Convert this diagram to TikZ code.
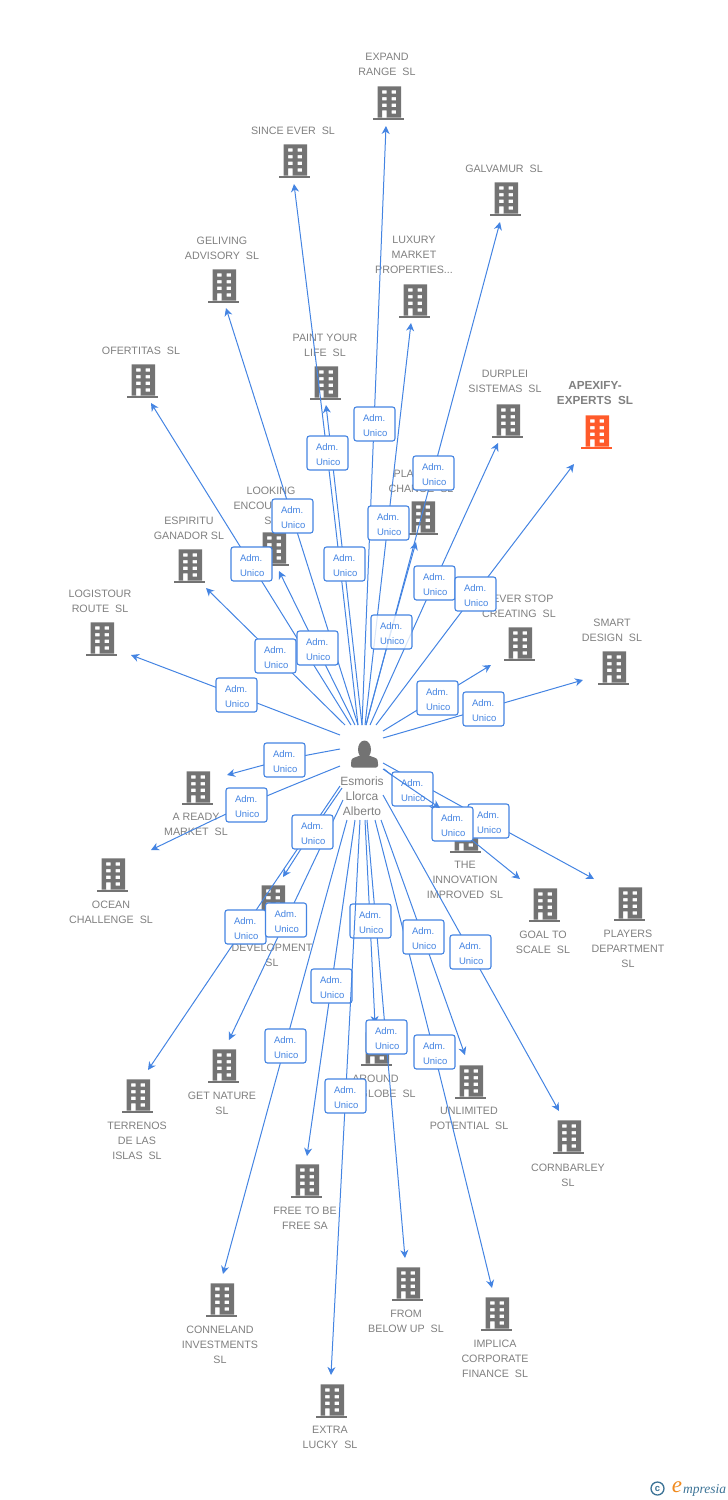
\documentclass[tikz,border=0pt]{standalone}
\usepackage{fontspec}
\setmainfont{Liberation Sans}
\newfontfamily\logofont{Liberation Serif}
\usetikzlibrary{arrows.meta}
\definecolor{edgeblue}{HTML}{4484E2}
\definecolor{labgray}{HTML}{808080}
\definecolor{bldgray}{HTML}{737373}
\definecolor{bldorange}{HTML}{FF5A2A}
\definecolor{logoteal}{HTML}{3C7396}
\definecolor{logoorange}{HTML}{F08A1E}
\tikzset{
  edgeline/.style={draw=edgeblue,line width=1pt,-{Stealth[length=8pt,width=8pt,inset=2.5pt]}},
  admbox/.style={draw=edgeblue,line width=1.1pt,fill=white,rounded corners=2.5pt,
    inner xsep=8pt,inner ysep=0pt,text width=25pt,minimum height=34pt,align=left,
    text=edgeblue,font=\fontsize{9.5}{15}\selectfont},
  fadedbox/.style={admbox,fill opacity=.8,text opacity=1,draw opacity=1},
  bldlabel/.style={anchor=north,inner sep=0pt,align=center,text=labgray,
    font=\fontsize{10.7}{15}\selectfont},
  bldbox/.style={inner sep=0pt,minimum width=32pt,minimum height=34pt},
}
% building icon: id, x, y, colour, label x, label y of first line, text
\newcommand\bldg[7]{%
  \node[bldbox] (b#1) at (#2,#3) {};
  \begin{scope}[shift={(#2,#3)}]
    \fill[#4,even odd rule]
      (-11.3,-16.7) rectangle (12,14.5)
      (-7,-12.7) rectangle (-2.3,-9.3) (2.7,-12.7) rectangle (7,-9.3)
      (-7,-6) rectangle (-2.3,-2.7) (2.7,-6) rectangle (7,-2.7)
      (-7,0.7) rectangle (-2.3,4) (2.7,0.7) rectangle (7,4)
      (-7,7.3) rectangle (-2.3,14.5) (2.7,7.3) rectangle (7,10.7);
    \fill[#4] (-15.7,14.6) rectangle (15,17);
  \end{scope}
  \node[bldlabel] (n#1) at (#5,#6-3.6) {#7};
}
% connector: id, start x,y, label-centre x,y, tip x,y
\newcommand\conn[7]{%
  \coordinate (s#1) at (#2,#3);
  \coordinate (t#1) at (#6,#7);
  \pgfmathsetmacro\cx{4/3*#4-(#2+#6)/6}
  \pgfmathsetmacro\cy{4/3*#5-(#3+#7)/6}
  \coordinate (k#1) at (\cx,\cy);
  \draw[edgeline] (s#1) .. controls (k#1) .. (t#1);
}
\newcommand\admtext{\hspace*{1pt}\rule{0pt}{10pt}Adm.\\\hspace*{1pt}Unico}
\newcommand\adm[3]{\node[admbox] (l#1) at (#2,#3) {\admtext};}
\begin{document}
\begin{tikzpicture}[x=1pt,y=-1pt]
\useasboundingbox (0,0) rectangle (728,1500);
% buildings
\bldg{expand}{389}{103}{bldgray}{387}{57}{EXPAND\\RANGE\ \ SL}
\bldg{since}{295}{161}{bldgray}{293}{130}{SINCE EVER\ \ SL}
\bldg{galva}{506}{199}{bldgray}{504}{168}{GALVAMUR\ \ SL}
\bldg{geliv}{224}{286}{bldgray}{222}{240}{GELIVING\\ADVISORY\ \ SL}
\bldg{luxury}{415}{301}{bldgray}{414}{240}{LUXURY\\MARKET\\PROPERTIES...}
\bldg{paint}{326}{383}{bldgray}{325}{337}{PAINT YOUR\\LIFE\ \ SL}
\bldg{ofert}{143}{381}{bldgray}{141}{350}{OFERTITAS\ \ SL}
\bldg{durp}{508}{421}{bldgray}{505}{374}{DURPLEI\\SISTEMAS\ \ SL}
\bldg{apex}{597}{432}{bldorange}{595}{385}{\fontsize{11.7}{15}\selectfont\bfseries APEXIFY-\\\fontsize{11.7}{15}\selectfont\bfseries EXPERTS\ \ SL}
\bldg{look}{274}{549}{bldgray}{271}{490}{LOOKING\\ENCOUNTERS\\SL}
\bldg{plan}{423}{518}{bldgray}{421}{473}{PLANNING\\CHANGE\ \ SL}
\bldg{espir}{190}{566}{bldgray}{189}{520}{ESPIRITU\\GANADOR SL}
\bldg{logis}{102}{639}{bldgray}{100}{593}{LOGISTOUR\\ROUTE\ \ SL}
\bldg{never}{520}{644}{bldgray}{519}{598}{NEVER STOP\\CREATING\ \ SL}
\bldg{smart}{614}{668}{bldgray}{612}{622}{SMART\\DESIGN\ \ SL}
\bldg{ready}{198}{788}{bldgray}{196}{817}{A READY\\MARKET\ \ SL}
\bldg{ocean}{113}{875}{bldgray}{111}{904}{OCEAN\\CHALLENGE\ \ SL}
\bldg{innov}{466}{836}{bldgray}{465}{865}{THE\\INNOVATION\\IMPROVED\ \ SL}
\bldg{goal}{545}{905}{bldgray}{543}{934}{GOAL TO\\SCALE\ \ SL}
\bldg{play}{630}{904}{bldgray}{628}{933}{PLAYERS\\DEPARTMENT\\SL}
\bldg{devel}{273}{902}{bldgray}{272}{947}{DEVELOPMENT\\SL}
\bldg{terr}{138}{1096}{bldgray}{137}{1125}{TERRENOS\\DE LAS\\ISLAS\ \ SL}
\bldg{getn}{224}{1066}{bldgray}{222}{1095}{GET NATURE\\SL}
\bldg{around}{377}{1049}{bldgray}{375.5}{1078}{AROUND\\THE GLOBE\ \ SL}
\bldg{unlim}{471}{1082}{bldgray}{469}{1111}{UNLIMITED\\POTENTIAL\ \ SL}
\bldg{corn}{569}{1137}{bldgray}{568}{1167}{CORNBARLEY\\SL}
\bldg{free}{307}{1181}{bldgray}{305}{1210}{FREE TO BE\\FREE SA}
\bldg{conne}{222}{1300}{bldgray}{220}{1329}{CONNELAND\\INVESTMENTS\\SL}
\bldg{from}{408}{1284}{bldgray}{406}{1313}{FROM\\BELOW UP\ \ SL}
\bldg{impl}{497}{1314}{bldgray}{495}{1343}{IMPLICA\\CORPORATE\\FINANCE\ \ SL}
\bldg{extra}{332}{1401}{bldgray}{330}{1430}{EXTRA\\LUCKY\ \ SL}
% person
\node[inner sep=0pt,minimum width=28pt,minimum height=30pt] (person) at (364.5,753) {};
\fill[bldgray] (364.5,749.5) ellipse (6.5 and 9);
\fill[bldgray,rounded corners=2pt] (351,767.5) -- (351,762) .. controls (352,757.5) and (357,757) .. (360,755)
  -- (369,755) .. controls (372,757) and (377,757.5) .. (378,762) -- (378,767.5) -- cycle;
\node[anchor=north,inner sep=0pt,align=center,text=labgray,font=\fontsize{12}{15}\selectfont] (pname) at (362,777)
  {Esmoris\\Llorca\\Alberto};
% connectors
\conn{expand}{362}{725}{374}{424}{386}{126}
\conn{since}{358}{725}{327}{453}{294}{184}
\conn{galva}{366}{725}{433}{473}{500}{222}
\conn{plan}{366}{725}{391}{632}{416}{542}
\conn{geliv}{358}{725}{292}{516}{226}{308}
\conn{luxury}{365}{725}{388}{523}{411}{323}
\conn{paint}{362}{725}{344}{564}{326}{405}
\conn{ofert}{351}{725}{251}{564}{151}{403}
\conn{durp}{370}{725}{434}{583}{498}{443}
\conn{apex}{376}{725}{475}{594}{574}{464}
\conn{look}{355}{725}{317}{648}{279}{571}
\conn{espir}{345}{725}{275}{656}{206}{588}
\conn{logis}{340}{735}{236}{695}{131}{655}
\conn{never}{383}{731}{437}{698}{491}{665}
\conn{smart}{383}{738}{483}{709}{583}{680}
\conn{ready}{340}{749}{284}{760}{227}{775}
\conn{ocean}{340}{766}{246}{805}{151}{850}
\conn{goal}{384}{769}{452}{824}{520}{879}
\conn{play}{383}{763}{488}{821}{594}{879}
\conn{devel}{342}{788}{312}{832}{283}{877}
\conn{terr}{340}{786}{245}{927}{148}{1070}
\conn{getn}{343}{800}{286}{920}{229}{1040}
\conn{around}{365}{820}{370}{921}{375}{1024}
\conn{unlim}{381}{820}{423}{937}{465}{1055}
\conn{corn}{383}{795}{470}{952}{559}{1111}
\conn{free}{355}{820}{331}{986}{307}{1156}
\conn{conne}{347}{820}{285}{1046}{223}{1274}
\conn{from}{367}{820}{386}{1037}{405}{1258}
\conn{impl}{375}{820}{434}{1052}{492}{1288}
% labels
\adm{expand}{374.5}{424}
\adm{since}{327.5}{453}
\adm{galva}{433.5}{473}
\adm{geliv}{292.5}{516}
\adm{luxury}{388.5}{523}
\adm{paint}{344.5}{564}
\adm{ofert}{251.5}{564}
\adm{durp}{434.5}{583}
\adm{apex}{475.5}{594}
\adm{look}{317.5}{648}
\node[fadedbox] (lplan) at (391.5,632) {\admtext};
\adm{espir}{275.5}{656}
\adm{logis}{236.5}{695}
\adm{never}{437.5}{698}
\adm{smart}{483.5}{709}
\adm{ready}{284.5}{760}
\adm{ocean}{246.5}{805}
\adm{innov}{412.5}{789}
\adm{play}{488.5}{821}
\adm{goal}{452.5}{824}
\adm{devel}{312.5}{832}
\adm{terr}{245.5}{927}
\adm{getn}{286}{920}
\adm{around}{370.5}{921}
\adm{unlim}{423.5}{937}
\adm{corn}{470.5}{952}
\adm{free}{331.5}{986}
\adm{conne}{285.5}{1046}
\adm{from}{386.5}{1037}
\adm{impl}{434.5}{1052}
% connectors lying over label boxes
\conn{innov}{383}{769}{412}{789}{440}{808}
\conn{extra}{360}{820}{345}{1096}{331}{1375}
\adm{extra}{345.5}{1096}
% footer logo
\node[circle,draw=logoteal,line width=1.3pt,inner sep=0pt,minimum size=13pt,text=logoteal,
  font=\bfseries\fontsize{9.5}{9}\selectfont] (copyr) at (657.5,1488.5) {c};
\node[inner sep=0pt,text=logoorange,font=\logofont\itshape\fontsize{23}{23}\selectfont] (logoe) at (677,1487) {e};
\node[inner sep=0pt,anchor=west,text=logoteal,font=\logofont\itshape\fontsize{13.5}{14}\selectfont] (logot) at (683,1490) {mpresia};
\end{tikzpicture}
\end{document}
